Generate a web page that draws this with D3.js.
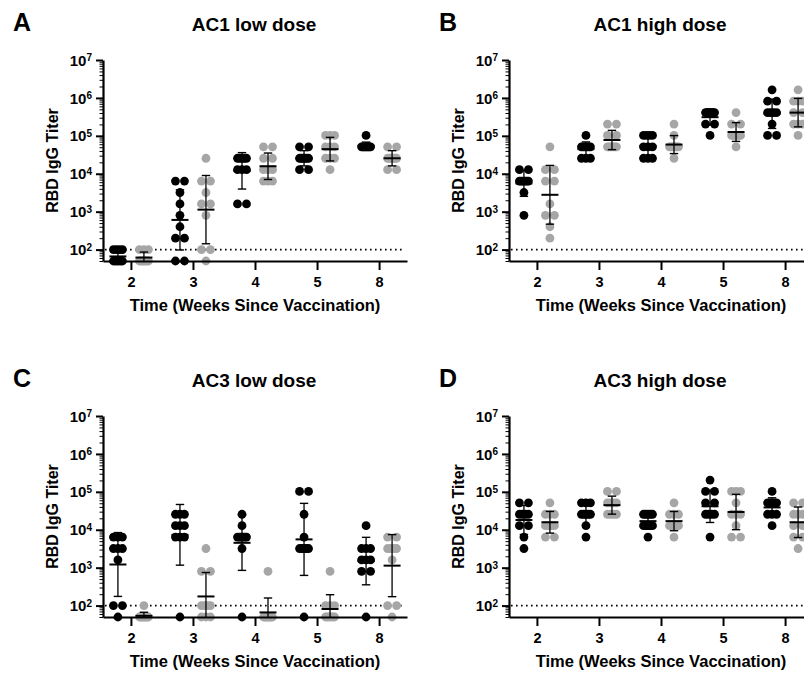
<!DOCTYPE html>
<html>
<head>
<meta charset="utf-8">
<script src="https://cdn.jsdelivr.net/npm/d3@7"></script>
<style>
  body { margin: 0; background: #fff; }
  text { font-family: Arial, "Liberation Sans", sans-serif; font-weight: bold; fill: #000; }
</style>
</head>
<body>
<svg id="chart" width="804" height="675"></svg>
<script>
// categorie e testi
var weeks = ["2", "3", "4", "5", "8"];
var panelLetters = ["A", "B", "C", "D"];
var panelTitles = ["AC1 low dose", "AC1 high dose", "AC3 low dose", "AC3 high dose"];
var majorPowers = [2, 3, 4, 5, 6, 7];
var detectionLimit = 100;

// titoli per settimana (un array di 10 valori per ogni settimana), gruppo scuro
var ac1LowDark = [
  [100, 100, 100, 100, 50, 50, 50, 50, 50, 50],
  [6400, 6400, 3200, 1600, 800, 400, 200, 200, 50, 50],
  [25600, 25600, 25600, 25600, 25600, 12800, 12800, 12800, 1600, 1600],
  [51200, 51200, 25600, 25600, 25600, 25600, 25600, 25600, 12800, 12800],
  [102400, 51200, 51200, 51200, 51200, 51200, 51200, 51200, 51200, 51200]
];
// gruppo chiaro
var ac1LowLight = [
  [100, 100, 100, 50, 50, 50, 50, 50, 50, 50],
  [25600, 6400, 6400, 3200, 1600, 1600, 800, 100, 100, 50],
  [51200, 51200, 25600, 25600, 12800, 12800, 12800, 6400, 6400, 6400],
  [102400, 102400, 102400, 51200, 51200, 51200, 25600, 25600, 25600, 12800],
  [51200, 51200, 25600, 25600, 25600, 25600, 25600, 25600, 12800, 12800]
];

var ac1HighDark = [
  [12800, 12800, 6400, 6400, 6400, 6400, 6400, 6400, 3200, 800],
  [102400, 51200, 51200, 51200, 51200, 51200, 51200, 25600, 25600, 25600],
  [102400, 102400, 102400, 102400, 51200, 51200, 51200, 25600, 25600, 25600],
  [409600, 409600, 409600, 409600, 409600, 409600, 409600, 204800, 204800, 102400],
  [1638400, 819200, 819200, 409600, 409600, 409600, 409600, 204800, 102400, 102400]
];
var ac1HighLight = [
  [51200, 12800, 12800, 6400, 6400, 1600, 800, 800, 400, 200],
  [204800, 204800, 102400, 102400, 51200, 51200, 51200, 51200, 51200, 51200],
  [204800, 102400, 51200, 51200, 51200, 51200, 51200, 51200, 51200, 25600],
  [409600, 204800, 204800, 102400, 102400, 102400, 102400, 102400, 102400, 51200],
  [1638400, 819200, 819200, 819200, 409600, 409600, 204800, 204800, 204800, 102400]
];

var ac3LowDark = [
  [6400, 6400, 6400, 3200, 3200, 3200, 1600, 100, 100, 50],
  [25600, 25600, 25600, 12800, 12800, 12800, 6400, 6400, 6400, 50],
  [25600, 12800, 6400, 6400, 6400, 6400, 6400, 6400, 3200, 50],
  [102400, 102400, 25600, 6400, 3200, 3200, 3200, 3200, 3200, 50],
  [12800, 3200, 3200, 3200, 1600, 1600, 1600, 800, 800, 50]
];
var ac3LowLight = [
  [100, 50, 50, 50, 50, 50, 50, 50, 50, 50],
  [3200, 800, 800, 100, 100, 100, 100, 50, 50, 50],
  [800, 50, 50, 50, 50, 50, 50, 50, 50, 50],
  [800, 100, 100, 100, 50, 50, 50, 50, 50, 50],
  [6400, 6400, 3200, 3200, 3200, 3200, 1600, 100, 100, 50]
];

var ac3HighDark = [
  [51200, 51200, 25600, 25600, 25600, 25600, 12800, 12800, 6400, 3200],
  [51200, 51200, 51200, 25600, 25600, 25600, 25600, 25600, 12800, 6400],
  [25600, 25600, 25600, 25600, 25600, 12800, 12800, 12800, 12800, 6400],
  [204800, 102400, 102400, 51200, 51200, 25600, 25600, 25600, 25600, 6400],
  [102400, 51200, 51200, 51200, 51200, 51200, 25600, 25600, 25600, 12800]
];
var ac3HighLight = [
  [51200, 25600, 25600, 25600, 12800, 12800, 12800, 12800, 6400, 6400],
  [102400, 102400, 51200, 51200, 51200, 51200, 25600, 25600, 25600, 25600],
  [51200, 25600, 25600, 25600, 12800, 12800, 12800, 12800, 12800, 6400],
  [102400, 102400, 102400, 51200, 25600, 25600, 25600, 12800, 6400, 6400],
  [51200, 51200, 25600, 25600, 25600, 12800, 12800, 6400, 6400, 3200]
];

var panels = [
  { dark: ac1LowDark, light: ac1LowLight },
  { dark: ac1HighDark, light: ac1HighLight },
  { dark: ac3LowDark, light: ac3LowLight },
  { dark: ac3HighDark, light: ac3HighLight }
];

// posizione dei pannelli (angolo dell'asse in alto a sinistra)
var origins = [[103, 60], [509, 60], [103, 416], [509, 416]];
var letterPos = [[13, 31], [439, 31], [13, 387], [439, 387]];
var plotW = 304, plotH = 201;
var darkColor = "#000000", lightColor = "#a6a6a6";
var groupShift = 13, radius = 4.4;

var svg = d3.select("#chart");

var x = d3.scalePoint().domain(weeks).range([0, plotW]).padding(0.45);
var y = d3.scaleLog().domain([50, 1e7]).range([plotH, 0]);

// tacche minori: 2..9 x 10^k dentro il dominio
var minorTicks = [];
for (var k = 1; k <= 6; k++) {
  for (var m = 2; m <= 9; m++) {
    var v = m * Math.pow(10, k);
    if (v >= 50 && v < 1e7) minorTicks.push(v);
  }
}

svg.append("defs").append("clipPath").attr("id", "plotClip")
  .append("rect").attr("x", -20).attr("y", 0).attr("width", plotW + 20).attr("height", plotH);

// posizioni orizzontali dei punti con lo stesso valore
function spreadPoints(values, cx) {
  var counts = d3.rollup(values, function(v) { return v.length; }, function(d) { return d; });
  var pts = [];
  counts.forEach(function(n, val) {
    for (var i = 0; i < n; i++) {
      var off = n === 1 ? 0 : -4.5 + 9 * i / (n - 1);
      pts.push({ x: cx + off, v: val });
    }
  });
  return pts;
}

panels.forEach(function(p, pi) {
  var g = svg.append("g").attr("transform", "translate(" + origins[pi][0] + "," + origins[pi][1] + ")");

  // lettera e titolo
  svg.append("text").attr("x", letterPos[pi][0]).attr("y", letterPos[pi][1])
    .style("font-size", "25px").text(panelLetters[pi]);
  g.append("text").attr("x", plotW / 2 - 1).attr("y", -29)
    .attr("text-anchor", "middle").style("font-size", "19px").text(panelTitles[pi]);

  // linea tratteggiata del limite di rilevazione
  g.append("line")
    .attr("x1", 2).attr("x2", plotW - 5)
    .attr("y1", y(detectionLimit)).attr("y2", y(detectionLimit))
    .attr("stroke", "#000").attr("stroke-width", 1.6)
    .attr("stroke-dasharray", "1.6,3.4");

  // punti
  [["dark", -groupShift, darkColor], ["light", groupShift, lightColor]].forEach(function(s) {
    p[s[0]].forEach(function(vals, wi) {
      var cx = x(weeks[wi]) + s[1];
      g.selectAll(null).data(spreadPoints(vals, cx)).enter().append("circle")
        .attr("cx", function(d) { return d.x; })
        .attr("cy", function(d) { return y(d.v); })
        .attr("r", radius)
        .attr("fill", s[2]);
    });
  });

  // media geometrica +/- DS geometrica
  var eb = g.append("g").attr("clip-path", "url(#plotClip)");
  [["dark", -groupShift], ["light", groupShift]].forEach(function(s) {
    p[s[0]].forEach(function(vals, wi) {
      var cx = x(weeks[wi]) + s[1];
      var logs = vals.map(function(d) { return Math.log10(d); });
      var mu = d3.mean(logs), sd = d3.deviation(logs);
      var lo = Math.pow(10, mu - sd), hi = Math.pow(10, mu + sd), mean = Math.pow(10, mu);
      eb.append("line").attr("x1", cx).attr("x2", cx).attr("y1", y(lo)).attr("y2", y(hi))
        .attr("stroke", "#000").attr("stroke-width", 1.3);
      [lo, hi].forEach(function(c) {
        eb.append("line").attr("x1", cx - 4.2).attr("x2", cx + 4.2).attr("y1", y(c)).attr("y2", y(c))
          .attr("stroke", "#000").attr("stroke-width", 1.4);
      });
      eb.append("line").attr("x1", cx - 8.5).attr("x2", cx + 8.5).attr("y1", y(mean)).attr("y2", y(mean))
        .attr("stroke", "#000").attr("stroke-width", 2);
    });
  });

  // asse y: tacche minori
  g.append("g").call(d3.axisLeft(y).tickValues(minorTicks).tickSize(3.5).tickSizeOuter(0).tickFormat(""))
    .call(function(a) {
      a.select(".domain").attr("stroke-width", 2.2);
      a.selectAll(".tick line").attr("stroke-width", 1);
    });

  // asse y: tacche principali con esponenti
  g.append("g").call(d3.axisLeft(y).tickValues(majorPowers.map(function(e) { return Math.pow(10, e); }))
      .tickSize(7).tickPadding(4).tickSizeOuter(0))
    .call(function(a) {
      a.select(".domain").remove();
      a.selectAll(".tick line").attr("stroke-width", 2);
      a.selectAll(".tick text").each(function(d) {
        var t = d3.select(this).text("").style("font-size", "15px").attr("dy", "0.34em");
        t.append("tspan").text("10");
        t.append("tspan").attr("dy", "-0.45em").style("font-size", "10px").text(Math.round(Math.log10(d)));
      });
    });

  g.append("text")
    .attr("transform", "translate(-45," + (plotH / 2) + ") rotate(-90)")
    .attr("text-anchor", "middle").style("font-size", "16px").text("RBD IgG Titer");

  // asse x
  g.append("g").attr("transform", "translate(0," + plotH + ")")
    .call(d3.axisBottom(x).tickSize(9).tickPadding(7).tickSizeOuter(0))
    .call(function(a) {
      a.select(".domain").attr("stroke-width", 2.2);
      a.selectAll(".tick line").attr("stroke-width", 2);
      a.selectAll(".tick text").style("font-size", "14.5px");
    });

  g.append("text").attr("x", plotW / 2).attr("y", plotH + 50)
    .attr("text-anchor", "middle").style("font-size", "16.5px").text("Time (Weeks Since Vaccination)");
});
</script>
</body>
</html>
